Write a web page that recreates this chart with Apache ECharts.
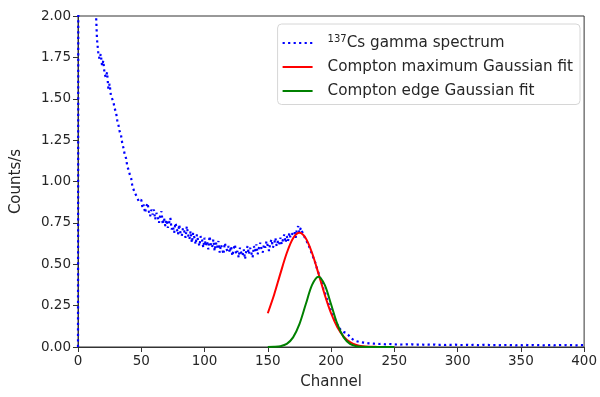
<!DOCTYPE html>
<html>
<head>
<meta charset="utf-8">
<script src="https://cdn.jsdelivr.net/npm/echarts@6/dist/echarts.min.js"></script>
<style>
  html, body { margin: 0; padding: 0; background: #fff; }
  #chart { width: 600px; height: 397px; }
</style>
</head>
<body>
<div id="chart"></div>
<script>
// 137Cs spectrum, counts/s per channel (index = channel)
const counts = [
  0, 9.5, 7.8, 6.6, 5.7, 5.0, 4.4, 3.9, 3.5, 3.15, 2.85, 2.6, 2.4, 2.22, 2.06,
  1.86, 1.78, 1.74, 1.77, 1.70, 1.73, 1.65, 1.63, 1.66, 1.56, 1.59, 1.52, 1.51, 1.48, 1.44,
  1.42, 1.37, 1.34, 1.30, 1.28, 1.23, 1.20, 1.16, 1.14, 1.09,
  1.07, 1.04, 1.02, 0.97, 0.98, 0.93, 0.92, 0.90, 0.88, 0.89,
  0.89, 0.84, 0.86, 0.81, 0.85, 0.87, 0.82, 0.79, 0.83, 0.80,
  0.83, 0.77, 0.81, 0.79, 0.75, 0.80, 0.82, 0.74, 0.78, 0.73,
  0.77, 0.72, 0.75, 0.78, 0.71, 0.73, 0.69, 0.75, 0.72, 0.68,
  0.74, 0.69, 0.67, 0.72, 0.70, 0.66, 0.73, 0.68, 0.65, 0.70,
  0.63, 0.69, 0.66, 0.62, 0.68, 0.64, 0.61, 0.67, 0.65, 0.60,
  0.66, 0.61, 0.64, 0.59, 0.67, 0.62, 0.60, 0.65, 0.58, 0.63,
  0.60, 0.64, 0.57, 0.62, 0.59, 0.56, 0.63, 0.60, 0.58, 0.61,
  0.57, 0.61, 0.55, 0.59, 0.62, 0.56, 0.58, 0.54, 0.60, 0.57,
  0.55, 0.59, 0.53, 0.58, 0.61, 0.56, 0.60, 0.57, 0.54, 0.61,
  0.58, 0.62, 0.56, 0.60, 0.63, 0.59, 0.57, 0.62, 0.60, 0.64,
  0.61, 0.58, 0.63, 0.65, 0.60, 0.62, 0.66, 0.61, 0.64, 0.62,
  0.66, 0.62, 0.65, 0.68, 0.63, 0.67, 0.64, 0.69, 0.66, 0.68,
  0.67, 0.70, 0.66, 0.71, 0.73, 0.69, 0.72, 0.70, 0.68, 0.67,
  0.65, 0.64, 0.62, 0.60, 0.58, 0.56, 0.54, 0.52, 0.50, 0.47,
  0.45, 0.43, 0.40, 0.38, 0.35, 0.33, 0.31, 0.28, 0.26, 0.24,
  0.22, 0.20, 0.18, 0.17, 0.15, 0.14, 0.12, 0.11, 0.10, 0.095,
  0.09, 0.088, 0.085, 0.08, 0.07, 0.06, 0.052, 0.047, 0.042, 0.038,
  0.035, 0.033, 0.031, 0.030, 0.029, 0.027, 0.026, 0.025, 0.024, 0.023,
  0.022, 0.020, 0.021, 0.019, 0.020, 0.018, 0.019, 0.020, 0.018, 0.017,
  0.019, 0.018, 0.017, 0.018, 0.016, 0.017, 0.018, 0.016, 0.017, 0.015,
  0.016, 0.017, 0.015, 0.016, 0.014, 0.016, 0.015, 0.017, 0.015, 0.014,
  0.016, 0.015, 0.014, 0.015, 0.016, 0.014, 0.013, 0.015, 0.014, 0.016,
  0.014, 0.013, 0.015, 0.014, 0.013, 0.014, 0.015, 0.013, 0.014, 0.012,
  0.014, 0.013, 0.015, 0.013, 0.012, 0.014, 0.013, 0.012, 0.014, 0.013,
  0.012, 0.013, 0.014, 0.012, 0.013, 0.011, 0.013, 0.012, 0.014, 0.012,
  0.013, 0.011, 0.012, 0.013, 0.012, 0.014, 0.012, 0.011, 0.013, 0.012,
  0.011, 0.012, 0.013, 0.011, 0.012, 0.013, 0.011, 0.012, 0.010, 0.012,
  0.013, 0.011, 0.012, 0.011, 0.013, 0.012, 0.010, 0.012, 0.011, 0.013,
  0.011, 0.012, 0.010, 0.012, 0.011, 0.013, 0.011, 0.010, 0.012, 0.011,
  0.012, 0.010, 0.011, 0.013, 0.011, 0.012, 0.010, 0.011, 0.012, 0.010,
  0.011, 0.012, 0.010, 0.011, 0.013, 0.011, 0.010, 0.012, 0.011, 0.010,
  0.012, 0.011, 0.010, 0.012, 0.011, 0.010, 0.011, 0.012, 0.010, 0.011,
  0.012, 0.010, 0.011, 0.010, 0.012, 0.011, 0.010, 0.011, 0.012, 0.010,
  0.011, 0.010, 0.012, 0.011, 0.010, 0.011, 0.012, 0.010, 0.011, 0.010,
  0.011, 0.012, 0.010, 0.011, 0.010, 0.011, 0.012, 0.010, 0.011, 0.010,
  0.011
]

// gaussian fits, sampled every 5 channels
const fitChannels = [150, 155, 160, 165, 170, 175, 180, 185, 190, 195, 200,
  205, 210, 215, 220, 225, 230, 235, 240, 245, 250]
const maxFit = [0.204, 0.316, 0.445, 0.568, 0.657, 0.69, 0.657, 0.568, 0.445, 0.316, 0.204,
  0.119, 0.063, 0.030, 0.013, 0.005, 0.002, 0.001, 0, 0, 0]
const edgeFit = [0, 0.001, 0.005, 0.019, 0.058, 0.138, 0.258, 0.375, 0.425, 0.375, 0.258,
  0.138, 0.058, 0.019, 0.005, 0.001, 0, 0, 0, 0, 0]

const xTicks = [0, 50, 100, 150, 200, 250, 300, 350, 400]
const yTicks = [0, 0.25, 0.5, 0.75, 1, 1.25, 1.5, 1.75, 2]

const specName = '137Cs gamma spectrum'
const maxName = 'Compton maximum Gaussian fit'
const edgeName = 'Compton edge Gaussian fit'
const font = 'DejaVu Sans'
const txt = '#262626'

const chart = echarts.init(document.getElementById('chart'))

chart.setOption({
  animation: false,
  textStyle: { fontFamily: font },
  grid: {
    left: 78, right: 12, top: 16, bottom: 50,
    show: true, borderColor: '#333', borderWidth: 1
  },
  legend: {
    orient: 'vertical',
    right: 20,
    top: 24,
    data: [specName, maxName, edgeName],
    itemWidth: 30,
    itemHeight: 14,
    itemGap: 9,
    padding: [10, 7, 6, 4],
    itemStyle: { opacity: 0 },
    borderColor: '#d6d6d6',
    borderWidth: 1,
    borderRadius: 4,
    backgroundColor: 'rgba(255,255,255,0.8)',
    textStyle: {
      fontFamily: font, fontSize: 15.2, color: txt, padding: [0, 0, 0, 10],
      rich: {
        sup: { fontFamily: font, fontSize: 10, color: txt, verticalAlign: 'top', padding: [0, 0, 8, 0] },
        n: { fontFamily: font, fontSize: 15.2, color: txt }
      }
    },
    formatter: function (name) {
      if (name === specName) return '{sup|137}{n|Cs gamma spectrum}'
      return name
    }
  },
  xAxis: {
    type: 'value',
    min: xTicks[0], max: xTicks[xTicks.length - 1], interval: 50,
    name: 'Channel', nameLocation: 'middle', nameGap: 28,
    nameTextStyle: { fontFamily: font, fontSize: 15, color: txt },
    axisLine: { lineStyle: { color: '#333', width: 1 } },
    axisTick: { show: true, length: 5, lineStyle: { color: '#333' } },
    axisLabel: { fontFamily: font, fontSize: 13.5, color: txt, margin: 7 },
    splitLine: { show: false }
  },
  yAxis: {
    type: 'value',
    min: yTicks[0], max: yTicks[yTicks.length - 1], interval: 0.25,
    name: 'Counts/s', nameLocation: 'middle', nameGap: 54,
    nameTextStyle: { fontFamily: font, fontSize: 15, color: txt },
    axisLine: { show: true, lineStyle: { color: '#333', width: 1 } },
    axisTick: { show: true, length: 5, lineStyle: { color: '#333' } },
    axisLabel: {
      fontFamily: font, fontSize: 13.5, color: txt, margin: 7,
      formatter: v => v.toFixed(2)
    },
    splitLine: { show: false }
  },
  series: [
    {
      name: specName,
      type: 'line',
      data: counts.map((v, i) => [i, v]),
      symbol: 'none',
      lineStyle: { color: '#0000ff', width: 2.2, type: [2.2, 3.3] },
      itemStyle: { color: '#0000ff' }
    },
    {
      name: maxName,
      type: 'line',
      data: fitChannels.map((c, i) => [c, maxFit[i]]),
      symbol: 'none',
      smooth: 0.3,
      lineStyle: { color: '#ff0000', width: 2 },
      itemStyle: { color: '#ff0000' }
    },
    {
      name: edgeName,
      type: 'line',
      data: fitChannels.map((c, i) => [c, edgeFit[i]]),
      symbol: 'none',
      smooth: 0.3,
      lineStyle: { color: '#008000', width: 2 },
      itemStyle: { color: '#008000' }
    }
  ]
})
</script>
</body>
</html>
